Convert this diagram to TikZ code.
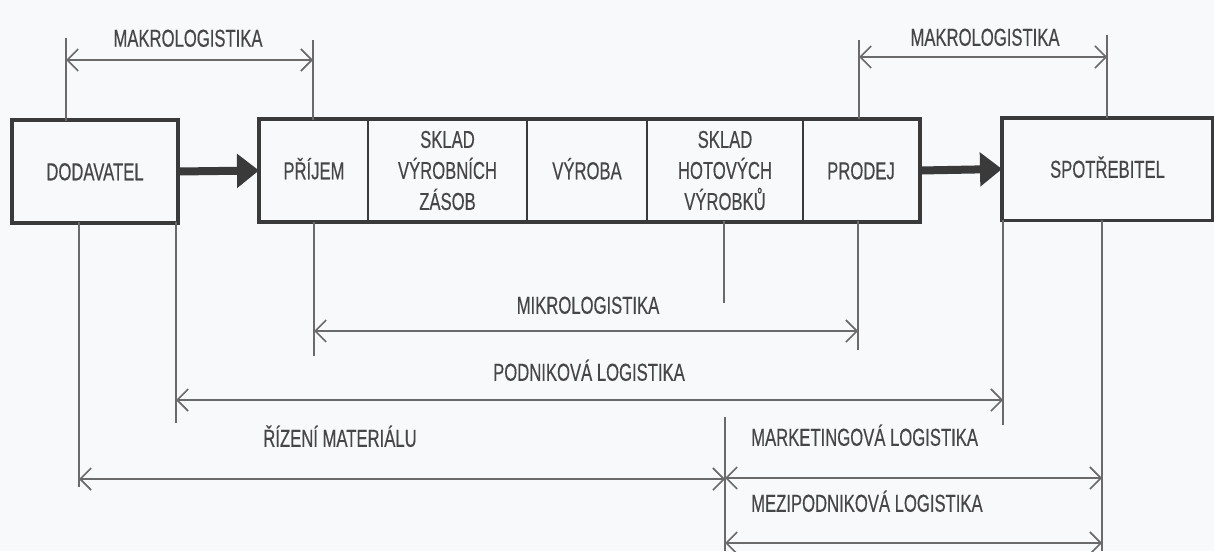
\documentclass[tikz,border=0pt]{standalone}
\usepackage{fontspec}
\setmainfont{Liberation Sans}[FakeStretch=0.68,FakeBold=0.4]
\usetikzlibrary{arrows.meta}
\definecolor{bg}{HTML}{F7F9FA}
\definecolor{ln}{HTML}{6A6A6A}
\definecolor{bx}{HTML}{3A3A3A}
\definecolor{tx}{HTML}{464646}
\begin{document}
\begin{tikzpicture}[x=1pt,y=-1pt,
  txt/.style={text=tx,font=\fontsize{24.5}{31}\selectfont,inner sep=0pt},
  caps/.style={text height=17.5pt,text depth=0pt},
  cell/.style={txt,draw=bx,line width=2pt,minimum height=101pt,align=center},
  outer/.style={draw=bx,line width=3.5pt},
  dim/.style={draw=ln,line width=1.6pt},
  dimarrow/.style={dim,{Straight Barb[length=11pt,width=22pt]}-{Straight Barb[length=11pt,width=22pt]}},
  fat/.style={draw=bx,line width=8pt,-{Triangle[length=22pt,width=33pt]}}]
\fill[bg] (0,0) rectangle (1214,551);
\useasboundingbox (0,0) rectangle (1214,551);

% boxes
\node[cell,caps,minimum width=164pt] (dod) at (95,171.5) {DODAVATEL};
\node[cell,caps,minimum width=108pt] (prijem) at (314,170.5) {PŘÍJEM};
\node[cell,minimum width=159pt] (skladA) at (447.5,170.5) {SKLAD\\VÝROBNÍCH\\ZÁSOB};
\node[cell,caps,minimum width=120pt] (vyroba) at (587,170.5) {VÝROBA};
\node[cell,minimum width=156pt] (skladB) at (725,170.5) {SKLAD\\HOTOVÝCH\\VÝROBKŮ};
\node[cell,caps,minimum width=116pt] (prodej) at (861,170.5) {PRODEJ};
\node[cell,caps,minimum width=209pt] (spot) at (1107.5,169) {SPOTŘEBITEL};
\draw[outer] (dod.north west) rectangle (dod.south east);
\draw[outer] (prijem.north west) rectangle (prodej.south east);
\draw[outer] (spot.north west) rectangle (spot.south east);

% flow arrows
\draw[fat] (dod.east) -- (prijem.west);
\draw[fat] (prodej.east) -- (spot.west);

% coordinates
\coordinate (mlA) at (66,38);   \coordinate (mlAb) at (66,121);
\coordinate (mlB) at (313,40);  \coordinate (mlBb) at (313,120);
\coordinate (mlAa) at (66,60);  \coordinate (mlBa) at (313,60);
\coordinate (mrA) at (859,40);  \coordinate (mrAb) at (859,119);
\coordinate (mrB) at (1107,35); \coordinate (mrBb) at (1107,118);
\coordinate (mrAa) at (859,57); \coordinate (mrBa) at (1107,57);

\coordinate (vR1) at (79,222);   \coordinate (vR2) at (79,487);
\coordinate (vP1) at (176,222);  \coordinate (vP2) at (176,423);
\coordinate (vM1) at (314,222);  \coordinate (vM2) at (314,356);
\coordinate (vS1) at (724,221);  \coordinate (vS2) at (724,303);
\coordinate (vS3) at (725,417);  \coordinate (vS4) at (725,551);
\coordinate (vN1) at (858,221);  \coordinate (vN2) at (858,350);
\coordinate (vQ1) at (1003,220); \coordinate (vQ2) at (1003,425);
\coordinate (vT1) at (1102,220); \coordinate (vT2) at (1102,551);

\coordinate (aM1) at (314,331);  \coordinate (aM2) at (858,331);
\coordinate (aP1) at (176,400);  \coordinate (aP2) at (1003,400);
\coordinate (aR1) at (79,479);   \coordinate (aR2) at (725,479);
\coordinate (aK1) at (725,478);  \coordinate (aK2) at (1102,478);
\coordinate (aZ1) at (725,543);  \coordinate (aZ2) at (1102,543);

% extension lines
\draw[dim] (mlA) -- (mlAb);
\draw[dim] (mlB) -- (mlBb);
\draw[dim] (mrA) -- (mrAb);
\draw[dim] (mrB) -- (mrBb);
\draw[dim] (vR1) -- (vR2);
\draw[dim] (vP1) -- (vP2);
\draw[dim] (vM1) -- (vM2);
\draw[dim] (vS1) -- (vS2);
\draw[dim] (vS3) -- (vS4);
\draw[dim] (vN1) -- (vN2);
\draw[dim] (vQ1) -- (vQ2);
\draw[dim] (vT1) -- (vT2);

% dimension arrows
\draw[dimarrow] (mlAa) -- (mlBa);
\draw[dimarrow] (mrAa) -- (mrBa);
\draw[dimarrow] (aM1) -- (aM2);
\draw[dimarrow] (aP1) -- (aP2);
\draw[dimarrow] (aR1) -- (aR2);
\draw[dimarrow] (aK1) -- (aK2);
\draw[dimarrow] (aZ1) -- (aZ2);

% labels
\node[txt,caps] (tML) at (188,38) {MAKROLOGISTIKA};
\node[txt,caps] (tMR) at (985,37) {MAKROLOGISTIKA};
\node[txt,caps] (tMI) at (588,305) {MIKROLOGISTIKA};
\node[txt,caps] (tPO) at (589,372) {PODNIKOVÁ LOGISTIKA};
\node[txt,caps] (tRI) at (340,438) {ŘÍZENÍ MATERIÁLU};
\node[txt,caps,anchor=west] (tMA) at (751,437) {MARKETINGOVÁ LOGISTIKA};
\node[txt,caps,anchor=west] (tME) at (751,503) {MEZIPODNIKOVÁ LOGISTIKA};
\end{tikzpicture}
\end{document}
